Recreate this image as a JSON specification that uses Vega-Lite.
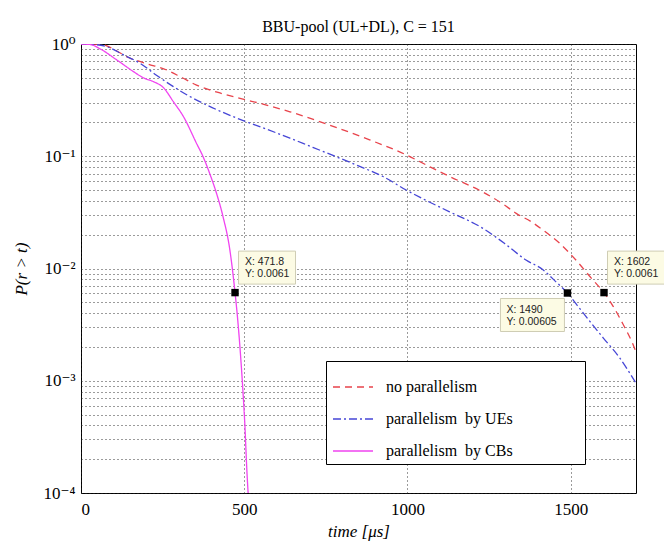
{
  "$schema": "https://vega.github.io/schema/vega-lite/v6.json",
  "width": 555,
  "height": 449,
  "autosize": {"type": "none"},
  "padding": {"left": 81, "top": 44, "right": 28, "bottom": 54},
  "background": "white",
  "config": {
    "font": "'Liberation Serif', 'Times New Roman', 'DejaVu Serif', serif",
    "view": {"stroke": "black", "strokeWidth": 1},
    "axis": {"domain": false, "ticks": false, "gridColor": "#222", "gridDash": [1, 3], "gridWidth": 1, "gridOpacity": 0.9,
             "labelFont": "'Liberation Serif', 'Times New Roman', 'DejaVu Serif', serif", "labelFontSize": 17, "labelColor": "black",
             "titleFont": "'Liberation Serif', 'Times New Roman', 'DejaVu Serif', serif", "titleFontSize": 17, "titleFontWeight": "normal", "titleFontStyle": "italic", "titleColor": "black"}
  },
  "title": {"text": "BBU-pool (UL+DL),  C = 151", "font": "'Liberation Serif', 'Times New Roman', 'DejaVu Serif', serif", "fontSize": 16, "fontWeight": "normal", "anchor": "middle", "offset": 2, "dy": 2, "color": "black"},
  "datasets": {
    "curves": [
      {"s": "no parallelism", "t": 0, "p": 1},
      {"s": "no parallelism", "t": 60, "p": 0.995},
      {"s": "no parallelism", "t": 100, "p": 0.9},
      {"s": "no parallelism", "t": 140, "p": 0.77},
      {"s": "no parallelism", "t": 200, "p": 0.67},
      {"s": "no parallelism", "t": 263, "p": 0.586},
      {"s": "no parallelism", "t": 310, "p": 0.5},
      {"s": "no parallelism", "t": 354, "p": 0.43},
      {"s": "no parallelism", "t": 420, "p": 0.37},
      {"s": "no parallelism", "t": 487, "p": 0.328},
      {"s": "no parallelism", "t": 560, "p": 0.29},
      {"s": "no parallelism", "t": 640, "p": 0.249},
      {"s": "no parallelism", "t": 760, "p": 0.19},
      {"s": "no parallelism", "t": 884, "p": 0.14},
      {"s": "no parallelism", "t": 996, "p": 0.103},
      {"s": "no parallelism", "t": 1060, "p": 0.083},
      {"s": "no parallelism", "t": 1129, "p": 0.066},
      {"s": "no parallelism", "t": 1231, "p": 0.048},
      {"s": "no parallelism", "t": 1290, "p": 0.038},
      {"s": "no parallelism", "t": 1333, "p": 0.031},
      {"s": "no parallelism", "t": 1380, "p": 0.026},
      {"s": "no parallelism", "t": 1420, "p": 0.0215},
      {"s": "no parallelism", "t": 1466, "p": 0.0168},
      {"s": "no parallelism", "t": 1517, "p": 0.0118},
      {"s": "no parallelism", "t": 1568, "p": 0.0079},
      {"s": "no parallelism", "t": 1602, "p": 0.0061},
      {"s": "no parallelism", "t": 1630, "p": 0.0046},
      {"s": "no parallelism", "t": 1660, "p": 0.0032},
      {"s": "no parallelism", "t": 1691, "p": 0.0021},
      {"s": "no parallelism", "t": 1700, "p": 0.0018},
      {"s": "parallelism\u00a0 by UEs", "t": 0, "p": 1},
      {"s": "parallelism\u00a0 by UEs", "t": 40, "p": 0.99},
      {"s": "parallelism\u00a0 by UEs", "t": 79, "p": 0.946},
      {"s": "parallelism\u00a0 by UEs", "t": 130, "p": 0.8},
      {"s": "parallelism\u00a0 by UEs", "t": 181, "p": 0.673},
      {"s": "parallelism\u00a0 by UEs", "t": 230, "p": 0.53},
      {"s": "parallelism\u00a0 by UEs", "t": 283, "p": 0.417},
      {"s": "parallelism\u00a0 by UEs", "t": 330, "p": 0.345},
      {"s": "parallelism\u00a0 by UEs", "t": 385, "p": 0.286},
      {"s": "parallelism\u00a0 by UEs", "t": 487, "p": 0.213},
      {"s": "parallelism\u00a0 by UEs", "t": 560, "p": 0.178},
      {"s": "parallelism\u00a0 by UEs", "t": 640, "p": 0.145},
      {"s": "parallelism\u00a0 by UEs", "t": 710, "p": 0.12},
      {"s": "parallelism\u00a0 by UEs", "t": 782, "p": 0.099},
      {"s": "parallelism\u00a0 by UEs", "t": 850, "p": 0.082},
      {"s": "parallelism\u00a0 by UEs", "t": 925, "p": 0.066},
      {"s": "parallelism\u00a0 by UEs", "t": 996, "p": 0.05},
      {"s": "parallelism\u00a0 by UEs", "t": 1060, "p": 0.04},
      {"s": "parallelism\u00a0 by UEs", "t": 1129, "p": 0.032},
      {"s": "parallelism\u00a0 by UEs", "t": 1231, "p": 0.0228},
      {"s": "parallelism\u00a0 by UEs", "t": 1300, "p": 0.0165},
      {"s": "parallelism\u00a0 by UEs", "t": 1363, "p": 0.0119},
      {"s": "parallelism\u00a0 by UEs", "t": 1414, "p": 0.0098},
      {"s": "parallelism\u00a0 by UEs", "t": 1455, "p": 0.0076},
      {"s": "parallelism\u00a0 by UEs", "t": 1490, "p": 0.00605},
      {"s": "parallelism\u00a0 by UEs", "t": 1520, "p": 0.0047},
      {"s": "parallelism\u00a0 by UEs", "t": 1558, "p": 0.0034},
      {"s": "parallelism\u00a0 by UEs", "t": 1600, "p": 0.0024},
      {"s": "parallelism\u00a0 by UEs", "t": 1650, "p": 0.0016},
      {"s": "parallelism\u00a0 by UEs", "t": 1700, "p": 0.00095},
      {"s": "parallelism\u00a0 by CBs", "t": 0, "p": 1},
      {"s": "parallelism\u00a0 by CBs", "t": 28, "p": 0.99},
      {"s": "parallelism\u00a0 by CBs", "t": 60, "p": 0.9},
      {"s": "parallelism\u00a0 by CBs", "t": 110, "p": 0.72},
      {"s": "parallelism\u00a0 by CBs", "t": 161, "p": 0.567},
      {"s": "parallelism\u00a0 by CBs", "t": 191, "p": 0.5},
      {"s": "parallelism\u00a0 by CBs", "t": 222, "p": 0.462},
      {"s": "parallelism\u00a0 by CBs", "t": 252, "p": 0.41},
      {"s": "parallelism\u00a0 by CBs", "t": 283, "p": 0.306},
      {"s": "parallelism\u00a0 by CBs", "t": 314, "p": 0.225},
      {"s": "parallelism\u00a0 by CBs", "t": 354, "p": 0.13},
      {"s": "parallelism\u00a0 by CBs", "t": 374, "p": 0.099},
      {"s": "parallelism\u00a0 by CBs", "t": 394, "p": 0.0705},
      {"s": "parallelism\u00a0 by CBs", "t": 415, "p": 0.0468},
      {"s": "parallelism\u00a0 by CBs", "t": 435, "p": 0.029},
      {"s": "parallelism\u00a0 by CBs", "t": 456, "p": 0.0146},
      {"s": "parallelism\u00a0 by CBs", "t": 471.8, "p": 0.0061},
      {"s": "parallelism\u00a0 by CBs", "t": 480, "p": 0.0035},
      {"s": "parallelism\u00a0 by CBs", "t": 488, "p": 0.0018},
      {"s": "parallelism\u00a0 by CBs", "t": 495, "p": 0.0009},
      {"s": "parallelism\u00a0 by CBs", "t": 502, "p": 0.0004},
      {"s": "parallelism\u00a0 by CBs", "t": 508, "p": 0.00016},
      {"s": "parallelism\u00a0 by CBs", "t": 514, "p": 0.00008}
    ],
    "tips": [
      {"t": 471.8, "p": 0.0061, "tip": "X: 471.8\nY: 0.0061", "side": "up"},
      {"t": 1602, "p": 0.0061, "tip": "X: 1602\nY: 0.0061", "side": "up"},
      {"t": 1490, "p": 0.00605, "tip": "X: 1490\nY: 0.00605", "side": "down"}
    ]
  },
  "encoding": {
    "x": {"field": "t", "type": "quantitative", "scale": {"domain": [0, 1700], "nice": false, "zero": false},
          "axis": {"title": "time [μs]", "values": [0, 500, 1000, 1500], "format": "d", "grid": true, "labelPadding": 8, "titlePadding": 6}},
    "y": {"field": "p", "type": "quantitative", "scale": {"type": "log", "domain": [0.0001, 1], "nice": false},
          "axis": {"title": "P(r > t)", "grid": true, "labelOverlap": false, "labelPadding": 6, "titlePadding": 13,
                   "labelExpr": "abs(log(datum.value)/LN10 - round(log(datum.value)/LN10)) < 0.001 ? ['10⁰','10⁻¹','10⁻²','10⁻³','10⁻⁴'][-round(log(datum.value)/LN10)] : ''"}}
  },
  "layer": [
    {
      "data": {"name": "curves"},
      "mark": {"type": "line", "clip": true, "strokeWidth": 1.3, "interpolate": "monotone"},
      "encoding": {
        "color": {"field": "s", "type": "nominal", "title": null,
                  "scale": {"domain": ["no parallelism", "parallelism\u00a0 by UEs", "parallelism\u00a0 by CBs"], "range": ["#e8434b", "#4646d6", "#f044f0"]},
                  "legend": {"orient": "none", "legendX": 245, "legendY": 317, "padding": 5, "symbolOffset": 1, "strokeColor": "black", "fillColor": "white",
                             "symbolType": "stroke", "symbolSize": 1600, "symbolStrokeWidth": 1.3, "labelFont": "'Liberation Serif', 'Times New Roman', 'DejaVu Serif', serif",
                             "labelFontSize": 16, "labelColor": "black", "labelOffset": 12, "rowPadding": 3, "labelLimit": 400,
                             "labelExpr": "datum.label + '\u00a0\u00a0\u2800\u2800\u2800\u2800\u2800'"}},
        "strokeDash": {"field": "s", "type": "nominal", "title": null,
                       "scale": {"domain": ["no parallelism", "parallelism\u00a0 by UEs", "parallelism\u00a0 by CBs"], "range": [[7, 5], [8, 3, 2, 3], [1, 0]]}}
      }
    },
    {
      "data": {"name": "tips"},
      "transform": [{"filter": "datum.side == 'up'"}],
      "mark": {"type": "rect", "width": 57, "height": 33, "xOffset": 32, "yOffset": -25, "fill": "#fcfbe4", "stroke": "#cfcdb4", "strokeWidth": 1}
    },
    {
      "data": {"name": "tips"},
      "transform": [{"filter": "datum.side == 'down'"}],
      "mark": {"type": "rect", "width": 64, "height": 33, "xOffset": -35, "yOffset": 22, "fill": "#fcfbe4", "stroke": "#cfcdb4", "strokeWidth": 1}
    },
    {
      "data": {"name": "tips"},
      "transform": [{"filter": "datum.side == 'up'"}],
      "mark": {"type": "text", "align": "left", "baseline": "middle", "dx": 10, "dy": -31, "font": "Liberation Sans", "fontSize": 10.5, "lineBreak": "\n", "lineHeight": 12, "color": "#222"},
      "encoding": {"text": {"field": "tip"}}
    },
    {
      "data": {"name": "tips"},
      "transform": [{"filter": "datum.side == 'down'"}],
      "mark": {"type": "text", "align": "left", "baseline": "middle", "dx": -61, "dy": 17, "font": "Liberation Sans", "fontSize": 10.5, "lineBreak": "\n", "lineHeight": 12, "color": "#222"},
      "encoding": {"text": {"field": "tip"}}
    },
    {
      "data": {"name": "tips"},
      "mark": {"type": "point", "shape": "square", "filled": true, "size": 55, "color": "black", "opacity": 1}
    }
  ]
}
